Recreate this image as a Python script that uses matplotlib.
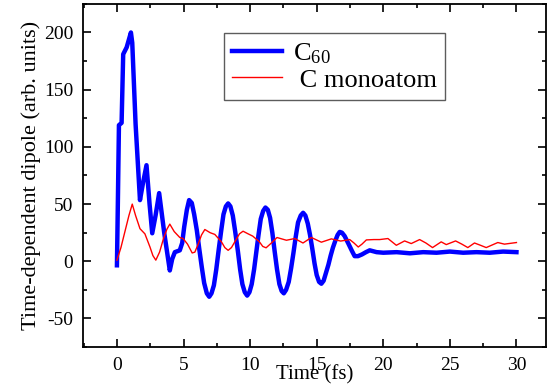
import matplotlib
matplotlib.use("Agg")
import matplotlib.pyplot as plt
from matplotlib.ticker import MultipleLocator

plt.rcParams['font.family'] = 'serif'
plt.rcParams['font.serif'] = ['Liberation Serif', 'DejaVu Serif']
plt.rcParams['mathtext.fontset'] = 'custom'
plt.rcParams['mathtext.rm'] = 'Liberation Serif'
plt.rcParams['mathtext.it'] = 'Liberation Serif:italic'
plt.rcParams['axes.unicode_minus'] = False

# C60 dipole
t_c60 = [0, 0.08, 0.15, 0.35, 0.47, 0.73, 1.05, 1.15, 1.4, 1.73, 1.95, 2.22, 2.45, 2.65,
         2.9, 3.17, 3.55, 3.97, 4.15, 4.35, 4.72, 4.9, 5.05, 5.25, 5.42, 5.62, 5.8,
         6.0, 6.18, 6.37, 6.55, 6.75, 6.93, 7.1, 7.28, 7.46, 7.64, 7.82, 8.0, 8.18,
         8.35, 8.52, 8.7, 8.88, 9.07, 9.25, 9.42, 9.6, 9.78, 9.95, 10.12, 10.3, 10.47,
         10.63, 10.8, 10.98, 11.15, 11.33, 11.5, 11.67, 11.84, 12.02, 12.2, 12.37,
         12.53, 12.7, 12.9, 13.08, 13.25, 13.42, 13.6, 13.8, 13.98, 14.15, 14.33,
         14.5, 14.67, 14.84, 15.0, 15.18, 15.35, 15.52, 15.7, 15.88, 16.05, 16.22,
         16.4, 16.57, 16.73, 16.9, 17.1, 17.4, 17.65, 17.85, 18.1, 18.4, 18.7, 18.98,
         19.5, 20.0, 21, 22, 23, 24, 25, 26, 27, 28, 29, 30]
d_c60 = [-3.5, 60, 119, 121, 181, 187, 200, 191, 120, 53.5, 68, 84, 50, 24.5,
         40, 59.6, 25, -8, 2, 8, 9.6, 16, 30, 45, 53.5, 51, 41,
         27, 11, -5, -19, -28, -31, -28, -21, -7, 10, 26, 41, 48,
         50.6, 48, 40, 26, 10, -7, -20, -27, -30, -27, -20, -7, 8.5,
         23, 37, 44, 47, 45, 38, 25, 9, -7, -20, -26,
         -28, -25, -18, -6, 7, 21, 34, 40, 42.4, 40, 33,
         23, 11, -2, -12, -18, -19.6, -17, -10, -3, 5, 12,
         18, 23, 25.7, 25, 22, 15, 9, 4.5, 4.5, 6, 8, 9.6,
         8, 7.5, 8, 7, 8, 7.5, 8.5, 7.5, 8, 7.5, 8.5, 8]

# C monoatom dipole
t_mono = [0, 0.3, 0.6, 0.9, 1.15, 1.4, 1.73, 2.1, 2.48, 2.7, 2.92, 3.2, 3.5, 3.75,
          3.97, 4.3, 4.72, 4.97, 5.3, 5.65, 5.85, 6.1, 6.35, 6.6, 7.0, 7.35, 7.85,
          8.1, 8.35, 8.6, 8.9, 9.2, 9.47, 9.85, 10.2, 10.7, 10.95, 11.2, 11.6, 12.02,
          12.4, 12.73, 13.35, 13.97, 14.6, 15.35, 16.1, 16.8, 17.48, 17.8, 18.12,
          18.4, 18.73, 19.3, 19.73, 20.35, 20.98, 21.6, 22.1, 22.73, 23.2, 23.7,
          24.35, 24.73, 25.43, 25.9, 26.35, 26.85, 27.3, 27.73, 28.6, 29.1, 30]
d_mono = [1, 12, 26, 40, 50, 40, 28.5, 24, 12.5, 5, 1, 8, 20, 28,
          32.5, 26, 20.8, 19.9, 15, 7.3, 8, 15, 23, 27.8, 25, 23.5, 17,
          12, 9.6, 12, 18, 24, 26.3, 24, 22, 17, 13, 11.8, 16, 20.8,
          19.5, 18.4, 19.9, 16, 20.8, 16.7, 19.6, 17.7, 19, 16, 12.5,
          15, 18.7, 19, 19, 19.9, 14, 17.8, 15.5, 19, 16, 12,
          17, 14.6, 17.8, 15, 12, 16, 14, 12, 16.4, 15, 16.4]

fig = plt.figure(figsize=(5.47, 3.90), dpi=100)
ax = fig.add_axes([0.1517, 0.110, 0.846, 0.880])

ax.plot(t_c60, d_c60, color='#0000ff', lw=3.2, label='C$_{\\rm 60}$',
        solid_joinstyle='round')
ax.plot(t_mono, d_mono, color='#ff0000', lw=1.0, label=' C monoatom')

ax.set_xlim(-2.55, 32.2)
ax.set_ylim(-75, 225)
ax.xaxis.set_major_locator(MultipleLocator(5))
ax.xaxis.set_minor_locator(MultipleLocator(2.5))
ax.yaxis.set_major_locator(MultipleLocator(50))
ax.yaxis.set_minor_locator(MultipleLocator(25))
ax.tick_params(which='both', direction='in', top=True, right=True,
               labelsize=14, width=1.2)
ax.tick_params(which='major', length=6, pad=7)
ax.tick_params(which='minor', length=3)
for s in ax.spines.values():
    s.set_linewidth(1.3)

ax.set_xlabel('Time (fs)', fontsize=15, labelpad=-6)
ax.set_ylabel('Time-dependent dipole (arb. units)', fontsize=16, labelpad=2)

leg = ax.legend(loc='upper left', bbox_to_anchor=(224 / 547, 1 - 33 / 390),
                bbox_transform=fig.transFigure, fontsize=19, frameon=True,
                fancybox=False, edgecolor='#333333', handlelength=1.9,
                handletextpad=0.4, borderpad=0.3, labelspacing=0.1,
                borderaxespad=0)
leg.get_frame().set_linewidth(1.0)

fig.savefig('out.png', dpi=100)
